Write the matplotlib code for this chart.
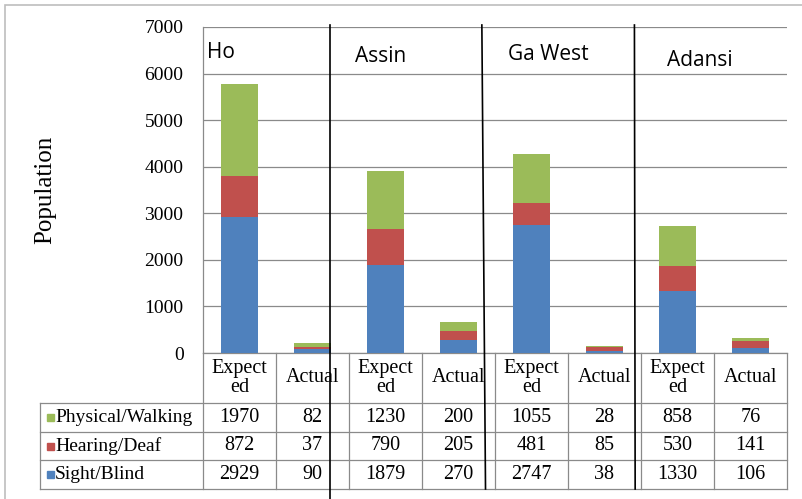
import matplotlib.pyplot as plt
import matplotlib.transforms as mtransforms
from matplotlib.lines import Line2D
from matplotlib.patches import Rectangle

districts = ['Ho', 'Assin', 'Ga West', 'Adansi']
columns = ['Expect\ned', 'Actual'] * 4
series = ['Physical/Walking', 'Hearing/Deaf', 'Sight/Blind']
physical = [1970, 82, 1230, 200, 1055, 28, 858, 76]
hearing = [872, 37, 790, 205, 481, 85, 530, 141]
sight = [2929, 90, 1879, 270, 2747, 38, 1330, 106]

green, red, blue = '#9bbb59', '#c0504d', '#4f81bd'
grid_col = '#8a8a8a'
serif = 'Liberation Serif'
sans = 'Open Sans'

W, H = 803, 499
fig = plt.figure(figsize=(W / 100, H / 100), dpi=100)
# plot box in pixels: x 203..787, y 27..353
L, R, T, B = 203, 787, 27, 353
ax = fig.add_axes([L / W, (H - B) / H, (R - L) / W, (B - T) / H])

x = list(range(len(columns)))
ax.bar(x, sight, 0.5, color=blue, zorder=3)
ax.bar(x, hearing, 0.5, bottom=sight, color=red, zorder=3)
base = [s + h for s, h in zip(sight, hearing)]
ax.bar(x, physical, 0.5, bottom=base, color=green, zorder=3)

ax.set_xlim(-0.5, len(columns) - 0.5)
ax.set_ylim(0, 7000)
ax.set_yticks(range(0, 7001, 1000))
ax.set_xticks([])
ax.grid(axis='y', color=grid_col, lw=0.9, zorder=0)
ax.tick_params(axis='y', length=0, pad=14)
for lab in ax.get_yticklabels():
    lab.set_fontfamily(serif)
    lab.set_fontsize(14)
for side in ['top', 'right']:
    ax.spines[side].set_visible(False)
for side in ['left', 'bottom']:
    ax.spines[side].set_color(grid_col)
    ax.spines[side].set_linewidth(0.9)

fig.text(45 / W, 1 - 190 / H, 'Population', rotation=90, fontsize=18,
         fontfamily=serif, ha='center', va='center')

# pixel helpers for the table under the axes
def fy(py):
    return (B - py) / (B - T)

def fx(px):
    return (px - L) / (R - L)

blend = mtransforms.blended_transform_factory(ax.transData, ax.transAxes)

# district names and hand-drawn dividers
name_pos = [(-0.445, 53), (1.58, 57), (3.68, 55), (5.86, 60)]
for name, (nx, ny) in zip(districts, name_pos):
    ax.text(nx, fy(ny), name, transform=blend, fontsize=15, fontfamily=sans,
            ha='left', va='center')
dividers = [(1.24, 1.24, 499), (3.32, 3.37, 489), (5.41, 5.42, 489)]
for x0, x1, bot in dividers:
    ax.add_line(Line2D([x0, x1], [fy(25), fy(bot)], transform=blend,
                       color='black', lw=1.2, clip_on=False, zorder=5))

# data table
rows_y = [403, 432, 460, 489]
tl = dict(color=grid_col, lw=0.9, clip_on=False, zorder=4)
for ry in rows_y:
    ax.add_line(Line2D([fx(40), 1], [fy(ry), fy(ry)], transform=ax.transAxes, **tl))
for i in range(len(columns) + 1):
    ax.add_line(Line2D([i - 0.5, i - 0.5], [0, fy(489)], transform=blend, **tl))
ax.add_line(Line2D([fx(40), fx(40)], [fy(403), fy(489)], transform=ax.transAxes, **tl))

for i, col in enumerate(columns):
    ax.text(i, fy(378), col, transform=blend, fontsize=14.5, fontfamily=serif,
            ha='center', va='center', linespacing=0.95)

values = [physical, hearing, sight]
swatch = [green, red, blue]
for r, (name, vals, c) in enumerate(zip(series, values, swatch)):
    cy = (rows_y[r] + rows_y[r + 1]) / 2
    ax.add_patch(Rectangle((fx(47), fy(cy + 3.5)), 7 / (R - L), 7 / (B - T),
                           transform=ax.transAxes, color=c, clip_on=False))
    ax.text(fx(55), fy(cy), name, transform=ax.transAxes, fontsize=14,
            fontfamily=serif, ha='left', va='center')
    for i, v in enumerate(vals):
        ax.text(i, fy(cy), str(v), transform=blend, fontsize=14.5,
                fontfamily=serif, ha='center', va='center')

# light frame around the figure
fig.patches.append(Rectangle((5 / W, -0.05), 1.05, 1 - 5 / H + 0.05,
                             transform=fig.transFigure, fill=False,
                             edgecolor='#bdbdbd', lw=1.2))

fig.savefig('out.png', dpi=100)
